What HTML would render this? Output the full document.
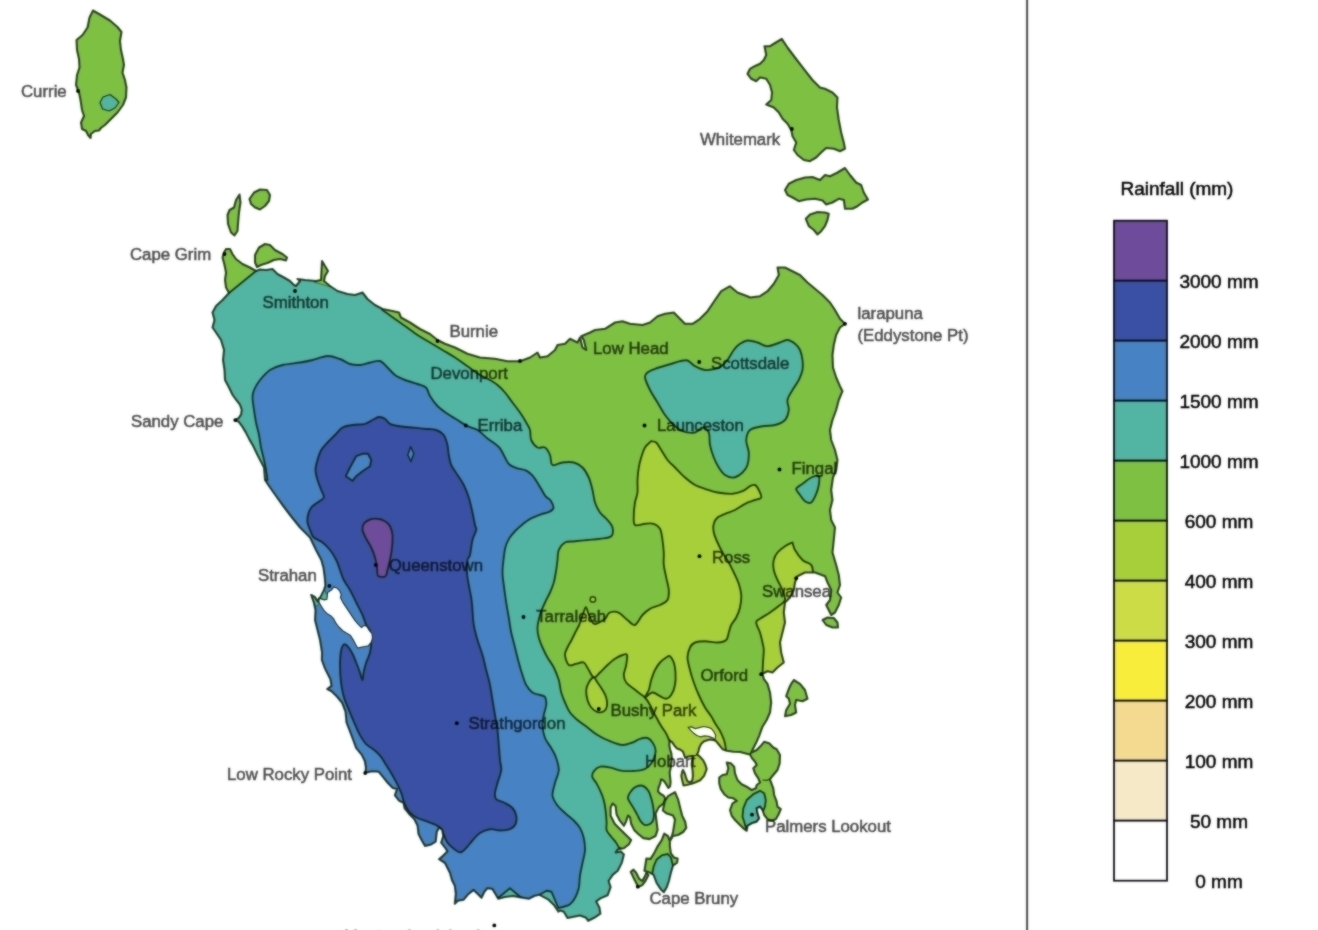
<!DOCTYPE html>
<html lang="en"><head><meta charset="utf-8"><title>Tasmania rainfall</title>
<style>
html,body{margin:0;padding:0;background:#fff;}
body{width:1318px;height:930px;overflow:hidden;font-family:"Liberation Sans",sans-serif;}
svg{display:block}
.lb{font-family:"Liberation Sans",sans-serif;font-size:16.8px;fill:#000;stroke:#000;stroke-width:.55px;opacity:.7}
.lg{font-family:"Liberation Sans",sans-serif;font-size:19px;fill:#000;stroke:#000;stroke-width:.5px}
</style></head><body>
<svg width="1318" height="930" viewBox="0 0 1318 930">
<defs><clipPath id="land"><path d="M222.5 257.5 L224 252.5 L226 249 L230 249 L232.5 254 L236 259 L242.5 264 L250 267.5 L256 271 L260 269.5 L266 270 L272.5 269 L277.5 274 L284 277.5 L290 281 L294 285 L296 286 L300 281 L297.5 279 L305 280 L316 281 L321 280 L322 261 L325 266 L328 271 L325 276 L324 281 L330 286 L337.5 291 L347.5 294 L355 295 L362.5 292.5 L367.5 299 L375 305 L382.5 309 L392.5 311 L399 312.5 L401 317.5 L410 322.5 L420 329 L430 334 L437.5 340 L445 343.8 L455 347.5 L467.5 353.8 L480 357.5 L495 358.8 L507.5 361.2 L520 361.2 L530 357.5 L537.5 352.5 L540 357.5 L547.5 356.2 L555 350 L557.5 345 L565 343.8 L570 338.8 L577.5 342.5 L580 337.5 L582.5 347.5 L586.2 350 L583.8 340 L581.2 336.2 L590 332.5 L595 330 L605 328.8 L615 322.5 L622.5 321.2 L630 323.8 L642.5 325 L650 322.5 L657.5 316.2 L665 313.8 L673.8 312.5 L680 318.8 L685 323.8 L692.5 323.8 L700 318.8 L707.5 311.2 L715 300 L721.2 291.2 L730 286.2 L737.5 292.5 L747.5 296.2 L750 297.5 L760 296.2 L767.5 291.2 L773.8 283.8 L778.8 275 L777.5 267.5 L785 267.5 L792.5 271.2 L800 275 L807.5 282.5 L815 288.8 L822.5 295 L830 302.5 L835 310 L840 318.8 L845 323.8 L840 327.5 L836.2 335 L833.8 345 L832.5 355 L833 367.5 L836.2 377.5 L840 386.2 L842.5 391.2 L838.8 400 L836.2 410 L832.5 420 L830 430 L831.2 440 L835 450 L837.5 460 L836.2 470 L833 477.5 L831.2 490 L832.5 500 L830 510 L831.2 520 L835 527.5 L833.8 540 L832.5 552.5 L836.2 565 L838.8 575 L840 585 L837.5 592.5 L841.2 597.5 L838.8 605 L835 612.5 L831.2 615 L826.2 605 L830 600 L831.2 590 L827.5 582.5 L825 576.2 L815 572.5 L805 572.5 L797.5 576.2 L795 582.5 L793.8 590 L790 597.5 L785 602.5 L783.8 612.5 L785 622.5 L782.5 632.5 L780 642.5 L781.2 652.5 L783.8 662.5 L777.5 667.5 L772.5 672.5 L767.5 671.2 L762.5 673.8 L763.8 678.8 L767.5 683.8 L770 692.5 L771.2 702.5 L770 712.5 L766.7 720 L762.5 726.7 L759.2 735.8 L756.7 741.7 L753.3 748.3 L751.3 752.5 L756.7 750 L760.8 745.8 L764.2 741.7 L769.2 743.3 L773.3 747.5 L776.7 749.2 L780 755 L779.7 763.3 L777.5 770 L773.3 775 L770 779.2 L770.8 781.7 L773.3 788.3 L774.2 795 L776.7 801.7 L777.5 806.7 L780.8 809.2 L778.3 815 L775.8 819.2 L771.7 820.8 L767.5 819.2 L764.2 815 L762.5 810 L760 806.7 L756.7 808.3 L757.5 813.3 L759.2 818.3 L756.7 821.7 L751.7 823.3 L747.5 825.8 L746.7 830.8 L743.3 828.3 L739.2 824.2 L735 820 L731.7 815.8 L730 810 L732.5 803.3 L736.7 800.8 L733.3 798.3 L728.3 797.5 L724.2 794.2 L720.8 789.2 L719.2 783.3 L719.2 777.5 L722.5 775 L726.7 774.2 L728.3 768.3 L726.7 762.5 L730.8 763.3 L734.2 766.7 L735 773.3 L737.5 780 L741.7 784.2 L746.7 786.7 L751.7 790 L755.8 788.3 L756.7 785 L760 782.5 L758.3 778.3 L755 773.3 L753.3 768.3 L756.7 765 L755 761.7 L752 758.3 L750 754.5 L746.7 753.7 L740 752 L733.3 751.7 L726.7 750.8 L722.5 749.2 L719.2 745 L715.8 740.8 L714 740.2 L710.6 739.4 L707.1 740.2 L703.7 741.5 L701.1 744.1 L699.4 747.5 L698.5 751 L697.2 754.4 L700.2 757 L703.3 760.4 L705.4 764.8 L706.7 769.1 L704.1 775.9 L700.2 780.2 L695.1 782.5 L691.6 783.8 L686.5 785 L683.5 785.5 L682.2 780.2 L681.3 775.9 L682.2 771.6 L683 769.9 L684.8 773.4 L686 777.7 L687.3 781.1 L689.5 782 L691.6 781.5 L692.5 779.4 L692.9 775.1 L692.5 769.9 L691.6 764.8 L692.1 760.4 L692.9 757.5 L691.6 756 L688.2 756.5 L685.2 757.9 L684.3 755.3 L683 751.8 L680.4 749.7 L677 748.4 L674.4 745.8 L672.3 742.4 L669.7 740.7 L669.3 745 L670.1 749.3 L671.4 753.6 L671.8 757.9 L671.4 763 L670.6 768.2 L669.7 772.5 L670.1 776.8 L670.6 782 L670.1 786.3 L668.4 788 L665.8 783.7 L663.2 780.2 L661.1 779.4 L660.2 783.7 L658.5 788 L658.1 791.4 L660.7 794 L663.7 795.7 L665.3 798.5 L663.8 803.3 L658.7 807.4 L655.6 813.6 L656.6 821.7 L657.6 829.9 L655.6 836 L649.5 839.1 L643.3 838.1 L638.2 834 L634.1 829.9 L631.1 823.8 L630.1 817.6 L628 815.6 L626 821.7 L623.9 825.8 L619.8 820.7 L616.6 814.6 L615.5 806 L612.7 803.5 L610.6 807.4 L610.6 815.6 L614.7 823.8 L620.9 829.9 L627 836 L631.1 840.1 L629 844.2 L623.9 848.3 L617.8 849.3 L615.8 852.4 L620.9 851.4 L623.9 854.4 L621.9 862.6 L617.8 870.8 L612.7 874.9 L608.6 881 L610.6 887.1 L607.6 895.3 L600.4 898.4 L596.3 901.4 L599.4 907.5 L600.4 913.7 L594.3 917.8 L588.2 920.8 L586.1 917.8 L580 915.5 L567.5 918 L563.8 911.8 L560 910.5 L558.4 911.6 L554.4 905.6 L548.5 899.7 L539.6 894.8 L534.7 895.8 L528.8 898.7 L520.9 897.4 L513 896 L505 897 L498.2 898.7 L495.3 893.8 L492.3 888.9 L487.4 888.3 L484.4 891.8 L481.5 897.8 L477.5 893.8 L473.6 889.9 L467.7 894.8 L463.7 899.7 L457.8 900.7 L454.8 903.7 L455.8 893.8 L454.8 885.9 L451.9 880 L450 873 L445 863 L439 859.2 L443.2 855.6 L447.5 851.3 L445.4 848.1 L441.1 842.7 L443.2 836.2 L442.2 829.8 L439 827.6 L436.8 831.9 L435.7 841.6 L430.4 844.8 L425 845.9 L421.8 840.5 L418.5 834.1 L417.5 825.5 L414.2 819 L408.9 813.7 L404.6 808.3 L403.5 802.9 L399.2 800.8 L394.9 795.4 L397 789 L392.7 787.9 L387.4 782.5 L383.1 777.1 L378.8 771.8 L372.3 771.3 L365.4 772.8 L365.9 767.5 L364.8 761 L361.6 754.6 L356.2 748.1 L353 739.5 L349.8 730.9 L346.5 722.3 L345.5 711.6 L342.2 703 L336.9 696.5 L331.5 691.2 L327.2 689 L331.5 685.8 L330.4 679.3 L325 668.6 L321.8 660 L322 652.5 L320 640 L317.5 630 L315 620 L315.5 610 L313.8 602.5 L311.2 595 L314.8 596.9 L317.8 601.5 L318.8 598.5 L320.1 597.6 L323.9 590.1 L325.4 585.6 L324.7 577 L323.5 568 L321.3 560 L316 550 L310 537.5 L300 527.5 L290 515 L282.5 505 L276 496 L270 487.5 L265 480 L264 467.5 L257.5 455 L253.2 446 L249.6 439.9 L245.9 432.6 L242.3 426.6 L238.6 421.7 L235 420.1 L238.6 418.1 L241.1 414.4 L241.7 409.6 L239.9 404.7 L236.2 399.9 L232.6 395 L229 387.5 L225 380 L224.5 370 L223 360 L224 350 L221 340 L216 332.5 L212.5 327.5 L214.5 320 L212.5 312.5 L216 306 L222.5 300 L229 293 L226 287.5 L225 280 L226 272.5 L224.5 265Z"/></clipPath>
<filter id="jpg" filterUnits="userSpaceOnUse" x="-40" y="-40" width="1398" height="1010" color-interpolation-filters="sRGB">
<feColorMatrix in="SourceGraphic" type="matrix" values="0.299 0.587 0.114 0 0  -0.168736 -0.331264 0.5 0 0.50196  0.5 -0.418688 -0.081312 0 0.50196  0 0 0 1 0" result="ycc"/>
<feColorMatrix in="ycc" type="matrix" values="1 0 0 0 0  0 0 0 0 0  0 0 0 0 0  0 0 0 1 0" result="y"/>
<feColorMatrix in="ycc" type="matrix" values="0 0 0 0 0  0 1 0 0 0  0 0 1 0 0  0 0 0 1 0" result="cc"/>
<feGaussianBlur in="cc" stdDeviation="2" result="ccb"/>
<feGaussianBlur in="y" stdDeviation="0.85" result="yb"/>
<feComposite in="y" in2="yb" operator="arithmetic" k1="0" k2="0.45" k3="0.55" k4="0" result="ym"/>
<feComposite in="ym" in2="ccb" operator="arithmetic" k1="0" k2="1" k3="1" k4="0" result="sum"/>
<feColorMatrix in="sum" type="matrix" values="1 0 1.402 0 -0.70375  1 -0.344136 -0.714136 0 0.53121  1 1.772 0 0 -0.88947  0 0 0 1 0"/>
</filter></defs>
<g filter="url(#jpg)">
<rect x="-40" y="-40" width="1398" height="1010" fill="#fff"/>
<path d="M222.5 257.5 L224 252.5 L226 249 L230 249 L232.5 254 L236 259 L242.5 264 L250 267.5 L256 271 L260 269.5 L266 270 L272.5 269 L277.5 274 L284 277.5 L290 281 L294 285 L296 286 L300 281 L297.5 279 L305 280 L316 281 L321 280 L322 261 L325 266 L328 271 L325 276 L324 281 L330 286 L337.5 291 L347.5 294 L355 295 L362.5 292.5 L367.5 299 L375 305 L382.5 309 L392.5 311 L399 312.5 L401 317.5 L410 322.5 L420 329 L430 334 L437.5 340 L445 343.8 L455 347.5 L467.5 353.8 L480 357.5 L495 358.8 L507.5 361.2 L520 361.2 L530 357.5 L537.5 352.5 L540 357.5 L547.5 356.2 L555 350 L557.5 345 L565 343.8 L570 338.8 L577.5 342.5 L580 337.5 L582.5 347.5 L586.2 350 L583.8 340 L581.2 336.2 L590 332.5 L595 330 L605 328.8 L615 322.5 L622.5 321.2 L630 323.8 L642.5 325 L650 322.5 L657.5 316.2 L665 313.8 L673.8 312.5 L680 318.8 L685 323.8 L692.5 323.8 L700 318.8 L707.5 311.2 L715 300 L721.2 291.2 L730 286.2 L737.5 292.5 L747.5 296.2 L750 297.5 L760 296.2 L767.5 291.2 L773.8 283.8 L778.8 275 L777.5 267.5 L785 267.5 L792.5 271.2 L800 275 L807.5 282.5 L815 288.8 L822.5 295 L830 302.5 L835 310 L840 318.8 L845 323.8 L840 327.5 L836.2 335 L833.8 345 L832.5 355 L833 367.5 L836.2 377.5 L840 386.2 L842.5 391.2 L838.8 400 L836.2 410 L832.5 420 L830 430 L831.2 440 L835 450 L837.5 460 L836.2 470 L833 477.5 L831.2 490 L832.5 500 L830 510 L831.2 520 L835 527.5 L833.8 540 L832.5 552.5 L836.2 565 L838.8 575 L840 585 L837.5 592.5 L841.2 597.5 L838.8 605 L835 612.5 L831.2 615 L826.2 605 L830 600 L831.2 590 L827.5 582.5 L825 576.2 L815 572.5 L805 572.5 L797.5 576.2 L795 582.5 L793.8 590 L790 597.5 L785 602.5 L783.8 612.5 L785 622.5 L782.5 632.5 L780 642.5 L781.2 652.5 L783.8 662.5 L777.5 667.5 L772.5 672.5 L767.5 671.2 L762.5 673.8 L763.8 678.8 L767.5 683.8 L770 692.5 L771.2 702.5 L770 712.5 L766.7 720 L762.5 726.7 L759.2 735.8 L756.7 741.7 L753.3 748.3 L751.3 752.5 L756.7 750 L760.8 745.8 L764.2 741.7 L769.2 743.3 L773.3 747.5 L776.7 749.2 L780 755 L779.7 763.3 L777.5 770 L773.3 775 L770 779.2 L770.8 781.7 L773.3 788.3 L774.2 795 L776.7 801.7 L777.5 806.7 L780.8 809.2 L778.3 815 L775.8 819.2 L771.7 820.8 L767.5 819.2 L764.2 815 L762.5 810 L760 806.7 L756.7 808.3 L757.5 813.3 L759.2 818.3 L756.7 821.7 L751.7 823.3 L747.5 825.8 L746.7 830.8 L743.3 828.3 L739.2 824.2 L735 820 L731.7 815.8 L730 810 L732.5 803.3 L736.7 800.8 L733.3 798.3 L728.3 797.5 L724.2 794.2 L720.8 789.2 L719.2 783.3 L719.2 777.5 L722.5 775 L726.7 774.2 L728.3 768.3 L726.7 762.5 L730.8 763.3 L734.2 766.7 L735 773.3 L737.5 780 L741.7 784.2 L746.7 786.7 L751.7 790 L755.8 788.3 L756.7 785 L760 782.5 L758.3 778.3 L755 773.3 L753.3 768.3 L756.7 765 L755 761.7 L752 758.3 L750 754.5 L746.7 753.7 L740 752 L733.3 751.7 L726.7 750.8 L722.5 749.2 L719.2 745 L715.8 740.8 L714 740.2 L710.6 739.4 L707.1 740.2 L703.7 741.5 L701.1 744.1 L699.4 747.5 L698.5 751 L697.2 754.4 L700.2 757 L703.3 760.4 L705.4 764.8 L706.7 769.1 L704.1 775.9 L700.2 780.2 L695.1 782.5 L691.6 783.8 L686.5 785 L683.5 785.5 L682.2 780.2 L681.3 775.9 L682.2 771.6 L683 769.9 L684.8 773.4 L686 777.7 L687.3 781.1 L689.5 782 L691.6 781.5 L692.5 779.4 L692.9 775.1 L692.5 769.9 L691.6 764.8 L692.1 760.4 L692.9 757.5 L691.6 756 L688.2 756.5 L685.2 757.9 L684.3 755.3 L683 751.8 L680.4 749.7 L677 748.4 L674.4 745.8 L672.3 742.4 L669.7 740.7 L669.3 745 L670.1 749.3 L671.4 753.6 L671.8 757.9 L671.4 763 L670.6 768.2 L669.7 772.5 L670.1 776.8 L670.6 782 L670.1 786.3 L668.4 788 L665.8 783.7 L663.2 780.2 L661.1 779.4 L660.2 783.7 L658.5 788 L658.1 791.4 L660.7 794 L663.7 795.7 L665.3 798.5 L663.8 803.3 L658.7 807.4 L655.6 813.6 L656.6 821.7 L657.6 829.9 L655.6 836 L649.5 839.1 L643.3 838.1 L638.2 834 L634.1 829.9 L631.1 823.8 L630.1 817.6 L628 815.6 L626 821.7 L623.9 825.8 L619.8 820.7 L616.6 814.6 L615.5 806 L612.7 803.5 L610.6 807.4 L610.6 815.6 L614.7 823.8 L620.9 829.9 L627 836 L631.1 840.1 L629 844.2 L623.9 848.3 L617.8 849.3 L615.8 852.4 L620.9 851.4 L623.9 854.4 L621.9 862.6 L617.8 870.8 L612.7 874.9 L608.6 881 L610.6 887.1 L607.6 895.3 L600.4 898.4 L596.3 901.4 L599.4 907.5 L600.4 913.7 L594.3 917.8 L588.2 920.8 L586.1 917.8 L580 915.5 L567.5 918 L563.8 911.8 L560 910.5 L558.4 911.6 L554.4 905.6 L548.5 899.7 L539.6 894.8 L534.7 895.8 L528.8 898.7 L520.9 897.4 L513 896 L505 897 L498.2 898.7 L495.3 893.8 L492.3 888.9 L487.4 888.3 L484.4 891.8 L481.5 897.8 L477.5 893.8 L473.6 889.9 L467.7 894.8 L463.7 899.7 L457.8 900.7 L454.8 903.7 L455.8 893.8 L454.8 885.9 L451.9 880 L450 873 L445 863 L439 859.2 L443.2 855.6 L447.5 851.3 L445.4 848.1 L441.1 842.7 L443.2 836.2 L442.2 829.8 L439 827.6 L436.8 831.9 L435.7 841.6 L430.4 844.8 L425 845.9 L421.8 840.5 L418.5 834.1 L417.5 825.5 L414.2 819 L408.9 813.7 L404.6 808.3 L403.5 802.9 L399.2 800.8 L394.9 795.4 L397 789 L392.7 787.9 L387.4 782.5 L383.1 777.1 L378.8 771.8 L372.3 771.3 L365.4 772.8 L365.9 767.5 L364.8 761 L361.6 754.6 L356.2 748.1 L353 739.5 L349.8 730.9 L346.5 722.3 L345.5 711.6 L342.2 703 L336.9 696.5 L331.5 691.2 L327.2 689 L331.5 685.8 L330.4 679.3 L325 668.6 L321.8 660 L322 652.5 L320 640 L317.5 630 L315 620 L315.5 610 L313.8 602.5 L311.2 595 L314.8 596.9 L317.8 601.5 L318.8 598.5 L320.1 597.6 L323.9 590.1 L325.4 585.6 L324.7 577 L323.5 568 L321.3 560 L316 550 L310 537.5 L300 527.5 L290 515 L282.5 505 L276 496 L270 487.5 L265 480 L264 467.5 L257.5 455 L253.2 446 L249.6 439.9 L245.9 432.6 L242.3 426.6 L238.6 421.7 L235 420.1 L238.6 418.1 L241.1 414.4 L241.7 409.6 L239.9 404.7 L236.2 399.9 L232.6 395 L229 387.5 L225 380 L224.5 370 L223 360 L224 350 L221 340 L216 332.5 L212.5 327.5 L214.5 320 L212.5 312.5 L216 306 L222.5 300 L229 293 L226 287.5 L225 280 L226 272.5 L224.5 265Z" fill="#7ec142"/>
<g clip-path="url(#land)">
<path d="M229 293 L256 271 L256 240 L385 240 L382.5 310 C384.6 311.5 391.2 316.3 395 319 C398.8 321.7 401.2 323.3 405 326 C408.8 328.7 413.3 332.2 417.5 335 C421.7 337.8 425.8 340 430 342.5 C434.2 345 438.3 347.5 442.5 350 C446.7 352.5 450.8 354.8 455 357.5 C459.2 360.2 463.3 363.3 467.5 366.2 C471.7 369.2 476.2 372.7 480 375 C483.8 377.3 487.1 378.3 490 380 C492.9 381.7 495 382.9 497.5 385 C500 387.1 502.5 389.6 505 392.5 C507.5 395.4 510 399.2 512.5 402.5 C515 405.8 517.7 409.2 520 412.5 C522.3 415.8 524.6 419.6 526.2 422.5 C527.9 425.4 529.2 427.1 530 430 C530.8 432.9 530 437.1 531.2 440 C532.5 442.9 535.2 446.2 537.5 447.5 C539.8 448.8 542.9 446.2 545 447.5 C547.1 448.8 548.8 452.1 550 455 C551.2 457.9 550.4 463.8 552.5 465 C554.6 466.2 559 462.9 562.5 462.5 C566 462.1 570.4 461.7 573.8 462.5 C577.1 463.3 580 465 582.5 467.5 C585 470 587.1 473.8 588.8 477.5 C590.4 481.2 591.5 485.8 592.5 490 C593.5 494.2 593.8 498.8 595 502.5 C596.2 506.2 597.9 509.6 600 512.5 C602.1 515.4 605.4 517.5 607.5 520 C609.6 522.5 611.9 524.8 612.5 527.5 C613.1 530.2 613.3 534.4 611.2 536.2 C609.2 538.1 604 538.1 600 538.8 C596 539.4 591.7 539.6 587.5 540 C583.3 540.4 578.8 540.8 575 541.2 C571.2 541.7 567.7 541 565 542.5 C562.3 544 560 547.1 558.8 550 C557.5 552.9 557.9 556.7 557.5 560 C557.1 563.3 556.9 566.2 556.2 570 C555.6 573.8 554.8 578.8 553.8 582.5 C552.7 586.2 551.5 589.2 550 592.5 C548.5 595.8 546.7 598.8 545 602.5 C543.3 606.2 541.2 610.8 540 615 C538.8 619.2 537.7 623.8 537.5 627.5 C537.3 631.2 537.9 634.2 538.8 637.5 C539.6 640.8 541 644.2 542.5 647.5 C544 650.8 545.6 654.2 547.5 657.5 C549.4 660.8 551.9 663.8 553.8 667.5 C555.6 671.2 557.5 675.8 558.8 680 C560 684.2 560.2 688.8 561.2 692.5 C562.3 696.2 563.5 699.2 565 702.5 C566.5 705.8 567.9 709.6 570 712.5 C572.1 715.4 574.6 717.5 577.5 720 C580.4 722.5 584.2 725 587.5 727.5 C590.8 730 593.8 732.7 597.5 735 C601.2 737.3 605.8 739.6 610 741.2 C614.2 742.9 618.8 744.8 622.5 745 C626.2 745.2 629.6 743.5 632.5 742.5 C635.4 741.5 637.5 739.5 640 738.8 C642.5 738 645.4 737.4 647.5 738 C649.6 738.6 651.1 740.5 652.5 742.5 C653.9 744.5 655.4 747.4 655.6 750.2 C655.8 753 654.8 756.7 653.6 759.4 C652.4 762.1 650.5 764.8 648.5 766.6 C646.5 768.4 644.2 769.5 641.3 770.2 C638.4 771 634.5 771 631.1 771.1 C627.7 771.2 624.3 771.2 620.9 770.6 C617.5 770 614 768.3 610.6 767.6 C607.2 766.9 603.1 766.1 600.4 766.6 C597.7 767.1 595.6 768.9 594.3 770.6 C592.9 772.3 592 774.8 592.3 776.8 C592.6 778.8 594.9 780.5 596.3 782.9 C597.6 785.3 599.2 788.4 600.4 791.1 C601.6 793.8 602.6 796.2 603.5 799.3 C604.4 802.4 605 805.8 605.5 809.5 C606 813.2 606.4 818.3 606.6 821.7 C606.8 825.1 605.9 827.5 606.6 829.9 C607.3 832.3 609.1 834 610.6 836 C612.1 838 614.4 840.3 615.8 842.2 C617.2 844.1 618.3 846.4 618.8 847.3 L625 851 L640 860 L640 945 L150 945 L150 293Z" fill="#52b4a3" stroke="#0a1a05" stroke-opacity="0.8" stroke-width="1.9" stroke-linejoin="round"/>
<path d="M267.5 480 C267.2 478.3 266.6 473.3 266 470 C265.4 466.7 264.8 463.8 264 460 C263.2 456.2 261.8 451.7 261 447.5 C260.2 443.3 259.8 439.2 259 435 C258.2 430.8 256.8 426.7 256 422.5 C255.2 418.3 254.6 414.2 254 410 C253.4 405.8 252.5 400.8 252.5 397.5 C252.5 394.2 252.8 392.9 254 390 C255.2 387.1 257.3 383.3 260 380 C262.7 376.7 266.2 372.5 270 370 C273.8 367.5 277.5 366.2 282.5 365 C287.5 363.8 295 363.3 300 362.5 C305 361.7 307.9 361.1 312.5 360 C317.1 358.9 322.9 356.2 327.5 356 C332.1 355.8 336.2 357.7 340 359 C343.8 360.3 346.7 363 350 364 C353.3 365 356.7 365.2 360 365 C363.3 364.8 366.7 363.2 370 362.5 C373.3 361.8 377.1 360.2 380 361 C382.9 361.8 385 365.2 387.5 367.5 C390 369.8 392.1 372.9 395 375 C397.9 377.1 401.2 378.5 405 380 C408.8 381.5 414 382.8 417.5 384 C421 385.2 423.9 385.5 426 387.5 C428.1 389.5 428.1 392.9 430 396 C431.9 399.1 434.6 403 437.5 406 C440.4 409 444.2 411.4 447.5 413.8 C450.8 416.1 454.2 417.9 457.5 420 C460.8 422.1 464.2 424.6 467.5 426.2 C470.8 427.9 474.2 428 477.5 430 C480.8 432 484.8 436.3 487.5 438.5 C490.2 440.7 491.9 441.4 494 443 C496.1 444.6 498.2 446 500 448.3 C501.8 450.6 503.1 454 504.6 456.7 C506.1 459.4 507.1 462.4 509.1 464.3 C511.1 466.2 513.9 467.1 516.7 468.1 C519.5 469.1 523.3 469.2 525.8 470.3 C528.3 471.4 530.1 473.1 531.9 474.9 C533.7 476.7 534.9 478.7 536.4 481 C537.9 483.3 539.5 486.1 541 488.6 C542.5 491.1 543.9 494.1 545.5 496.1 C547.1 498.1 549.5 498.7 550.8 500.7 C552.1 502.7 553.8 506.4 553.4 508.3 C553 510.2 550.7 511.1 548.6 512.1 C546.5 513.1 544 513.3 541 514.4 C538 515.5 533.3 517.3 530.3 518.9 C527.3 520.5 525.3 522.2 522.8 524.2 C520.3 526.2 517.5 528.6 515.2 531 C512.9 533.4 510.8 535.8 509.1 538.6 C507.5 541.4 506.2 544.1 505.3 547.7 C504.4 551.3 504 555.9 503.5 560 C503 564.1 502.5 568.3 502.5 572.5 C502.5 576.7 503.1 580 503.8 585 C504.4 590 505.4 597.1 506.2 602.5 C507.1 607.9 507.9 612.5 508.8 617.5 C509.6 622.5 510.2 627.5 511.2 632.5 C512.3 637.5 513.8 642.5 515 647.5 C516.2 652.5 517.5 657.9 518.8 662.5 C520 667.1 521.2 671.2 522.5 675 C523.8 678.8 524.6 682.1 526.2 685 C527.9 687.9 530.2 690.8 532.5 692.5 C534.8 694.2 537.9 694.2 540 695 C542.1 695.8 544 695.3 545 697 C546 698.7 546.5 702 546.2 705 C546 708 544.4 711.6 543.8 715 C543.1 718.4 542.3 721.7 542.5 725.5 C542.7 729.3 543.5 734.2 545 738 C546.5 741.8 549.4 744.7 551.2 748 C553.1 751.3 555 754.2 556.2 758 C557.5 761.8 559 766.3 558.8 770.5 C558.5 774.7 556 778.8 555 783 C554 787.2 552.1 791.8 552.5 795.5 C552.9 799.2 555.4 802.6 557.5 805.5 C559.6 808.4 562.3 810.5 565 813 C567.7 815.5 571.2 818 573.8 820.5 C576.2 823 578.3 825.1 580 828 C581.7 830.9 582.9 834.2 583.8 838 C584.6 841.8 585.2 846.3 585 850.5 C584.8 854.7 583.3 858.8 582.5 863 C581.7 867.2 580.6 871.3 580 875.5 C579.4 879.7 579.6 884.2 578.8 888 C577.9 891.8 576.5 895.3 575 898 C573.5 900.7 571.9 902.8 570 904.2 C568.1 905.7 564.8 906.3 563.8 906.8 L558.4 908 L551.5 891.8 L546.5 890.8 L539.6 894.8 L535 905 L521 905 L520.9 897.4 L510 888.3 L497.2 898.7 L497 912 L300 945 L150 945 L150 480Z" fill="#4682c4" stroke="#0a1a05" stroke-opacity="0.8" stroke-width="1.9" stroke-linejoin="round"/>
<path d="M378.8 417 C380.8 416.8 383.1 417.6 385 418.8 C386.9 419.9 387.5 422.5 390 423.8 C392.5 425 396.2 425.6 400 426.2 C403.8 426.9 408.3 427.1 412.5 427.5 C416.7 427.9 421 428.3 425 428.8 C429 429.2 433.1 429 436.2 430 C439.4 431 441.9 432.5 443.8 435 C445.6 437.5 446.7 441.7 447.5 445 C448.3 448.3 448.1 451.7 448.8 455 C449.4 458.3 449.8 461.7 451.2 465 C452.7 468.3 455.4 471.7 457.5 475 C459.6 478.3 461.9 481.2 463.8 485 C465.6 488.8 467.3 492.9 468.8 497.5 C470.2 502.1 471.5 507.9 472.5 512.5 C473.5 517.1 474.4 522.1 475 525 C475.6 527.9 476.7 527.5 476.2 530 C475.8 532.5 473.5 535.8 472.5 540 C471.5 544.2 470.8 551.7 470 555 C469.2 558.3 468 557.1 467.5 560 C467 562.9 466.8 568.3 467 572.5 C467.2 576.7 468 580.8 468.8 585 C469.5 589.2 470.6 593.3 471.2 597.5 C471.9 601.7 472.1 605.4 472.5 610 C472.9 614.6 472.9 620 473.8 625 C474.6 630 476 635 477.5 640 C479 645 481 650 482.5 655 C484 660 485 665 486.2 670 C487.5 675 489 680 490 685 C491 690 491.7 695 492.5 700 C493.3 705 494.2 710 495 715 C495.8 720 496.9 725 497.5 730 C498.1 735 498.3 740 498.8 745 C499.2 750 499.6 755.8 500 760 C500.4 764.2 501.7 766.7 501.2 770.5 C500.8 774.3 498.5 779.2 497.5 783 C496.5 786.8 495.2 790.3 495 793 C494.8 795.7 494.6 797.6 496.2 799.2 C497.9 800.9 502.3 801.5 505 803 C507.7 804.5 510.6 805.9 512.5 808 C514.4 810.1 515.8 812.8 516.2 815.5 C516.8 818.2 516.5 822 515.5 824.2 C514.5 826.5 512.6 828.2 510 829.2 C507.4 830.3 503.3 830.5 500 830.5 C496.7 830.5 493.3 828.8 490 829.2 C486.7 829.7 482.9 831.1 480 833 C477.1 834.9 474.8 838 472.5 840.5 C470.2 843 468.3 846 466.2 848 C464.2 850 462.2 852.4 460 852.4 C457.8 852.4 455 849.7 452.9 848.1 C450.8 846.5 448.9 844.7 447.5 842.7 C446.1 840.7 445.4 838.5 444.3 836.2 C443.2 833.9 442.7 830.7 441.1 828.7 C439.5 826.7 437.2 825.6 434.7 824.4 C432.2 823.1 429 822.3 426.1 821.2 C423.2 820.1 420.2 819.4 417.5 818 C414.8 816.6 412 814.9 409.9 812.6 C407.8 810.3 406 807.2 404.6 804 C403.2 800.8 402.6 796.6 401.3 793.2 C400 789.8 398.6 786.8 397 783.6 C395.4 780.4 393.5 777 391.7 773.9 C389.9 770.8 388.1 768.2 386.3 765.3 C384.5 762.4 382.9 759.2 380.9 756.7 C378.9 754.2 377 752.4 374.5 750.3 C372 748.1 368.4 746.5 365.9 743.8 C363.4 741.1 361.4 737.7 359.4 734.1 C357.4 730.5 355.9 726.4 354.1 722.3 C352.3 718.2 350.3 713.3 348.7 709.4 C347.1 705.5 345.5 702.3 344.4 698.7 C343.2 695.1 342.4 691.5 341.8 687.9 C341.2 684.3 340.8 680.4 340.5 677.2 C340.2 674 340.2 671.5 340.1 668.6 C340 665.7 339.9 663.1 340.1 660 C340.3 656.9 340.6 652.6 341.2 650 C341.9 647.4 342.7 645.1 343.8 644.5 C344.8 643.9 346 644.7 347.5 646.2 C349 647.8 351 651 352.5 653.8 C354 656.5 355 659.4 356.2 662.5 C357.5 665.6 359 669.6 360 672.5 C361 675.4 361.9 680.2 362.5 680 C363.1 679.8 363.1 674.2 363.8 671.2 C364.4 668.3 365.2 665.6 366.2 662.5 C367.3 659.4 369.2 655.8 370 652.5 C370.8 649.2 371.2 646 371.2 642.5 C371.2 639 370.8 634.2 370 631.2 C369.2 628.3 367.5 627.7 366.2 625 C365 622.3 364.2 618.8 362.5 615 C360.8 611.2 358.3 606.7 356.2 602.5 C354.2 598.3 352.1 593.8 350 590 C347.9 586.2 345.4 583.3 343.8 580 C342.1 576.7 341.2 573.3 340 570 C338.8 566.7 337.9 563.3 336.2 560 C334.6 556.7 332.3 552.9 330 550 C327.7 547.1 325.2 544.6 322.5 542.5 C319.8 540.4 315.8 539.6 313.8 537.5 C311.7 535.4 311 532.5 310 530 C309 527.5 307.8 525 307.5 522.5 C307.2 520 307.4 517.5 308 515 C308.6 512.5 309.7 509.6 311.2 507.5 C312.8 505.4 315.4 504.2 317.5 502.5 C319.6 500.8 323.1 499.6 323.8 497.5 C324.4 495.4 322.3 492.9 321.2 490 C320.2 487.1 318.5 483.3 317.5 480 C316.5 476.7 315.5 473.3 315.5 470 C315.5 466.7 316.5 463.3 317.5 460 C318.5 456.7 319.6 452.9 321.2 450 C322.9 447.1 325.2 445 327.5 442.5 C329.8 440 332.5 437.5 335 435 C337.5 432.5 339.6 429.2 342.5 427.5 C345.4 425.8 348.8 425.6 352.5 425 C356.2 424.4 361.7 424.6 365 423.8 C368.3 422.9 370.2 421.1 372.5 420 C374.8 418.9 376.7 417.2 378.8 417Z" fill="#3a50a4" stroke="#0a1a05" stroke-opacity="0.8" stroke-width="1.9" stroke-linejoin="round"/>
<path d="M362.5 530 C362.1 527.5 362.5 525.5 363.8 523.8 C365 522 367.7 520.3 370 519.5 C372.3 518.7 375 518.5 377.5 518.8 C380 519 382.9 520 385 521.2 C387.1 522.5 388.8 524 390 526.2 C391.2 528.5 392.2 531.5 392.5 535 C392.8 538.5 392.4 543.3 392 547.5 C391.6 551.7 390.8 556.2 390 560 C389.2 563.8 388.2 567.3 387.5 570 C386.8 572.7 387.1 575.3 385.5 576.2 C383.9 577.2 379.4 577.2 378 575.8 C376.6 574.3 377.5 570.5 377 567.5 C376.5 564.5 376 560.8 375 557.5 C374 554.2 372.7 550.6 371.2 547.5 C369.8 544.4 367.7 541.7 366.2 538.8 C364.8 535.8 362.9 532.5 362.5 530Z" fill="#6f4b9b" stroke="#0a1a05" stroke-opacity="0.8" stroke-width="1.9" stroke-linejoin="round"/>
<path d="M345.8 476.2 L350 467.5 L356.2 456.2 L362.5 453.8 L368 453.8 L371.2 460 L370 466.2 L362.5 471.2 L356.2 476.2 L352.5 480.8Z" fill="#4682c4" stroke="#0a1a05" stroke-opacity="0.8" stroke-width="1.9" stroke-linejoin="round"/>
<path d="M410.6 446.8 L413.8 453.5 L410.9 461.5 L407.8 455Z" fill="#4682c4" stroke="#0a1a05" stroke-opacity="0.8" stroke-width="1.5" stroke-linejoin="round"/>
<path d="M645 377.5 C644.6 374.6 645.8 374 647.5 372.5 C649.2 371 651.7 370 655 368.8 C658.3 367.5 663.3 366.2 667.5 365 C671.7 363.8 676.7 362 680 361.2 C683.3 360.5 685 359.7 687.5 360.5 C690 361.3 692.1 364.7 695 366.2 C697.9 367.8 701.7 369.6 705 370 C708.3 370.4 712.3 369.4 715 368.8 C717.7 368.1 719.2 367.7 721.2 366.2 C723.3 364.8 725.4 362.7 727.5 360 C729.6 357.3 731.7 352.7 733.8 350 C735.8 347.3 737.7 345.3 740 343.8 C742.3 342.2 744.6 340.7 747.5 340.5 C750.4 340.3 754.2 341.5 757.5 342.5 C760.8 343.5 763.8 346.2 767.5 346.2 C771.2 346.2 776.7 343.5 780 342.5 C783.3 341.5 785 339.8 787.5 340 C790 340.2 792.9 342.1 795 343.8 C797.1 345.4 798.8 347.3 800 350 C801.2 352.7 802.1 356.7 802.5 360 C802.9 363.3 803.1 366.7 802.5 370 C801.9 373.3 800.4 376.7 798.8 380 C797.1 383.3 794.4 386.7 792.5 390 C790.6 393.3 788.1 396.7 787.5 400 C786.9 403.3 789.2 406.7 788.8 410 C788.3 413.3 787.3 417.5 785 420 C782.7 422.5 778.8 424 775 425 C771.2 426 766.7 425.4 762.5 426.2 C758.3 427.1 752.7 427.7 750 430 C747.3 432.3 746.5 436.2 746.2 440 C746 443.8 748.5 448.3 748.8 452.5 C749 456.7 748.5 461.7 747.5 465 C746.5 468.3 744.8 470.4 742.5 472.5 C740.2 474.6 736.7 477.1 733.8 477.5 C730.8 477.9 727.5 476.7 725 475 C722.5 473.3 720.6 470.4 718.8 467.5 C716.9 464.6 715.2 461.2 713.8 457.5 C712.3 453.8 710.8 449.2 710 445 C709.2 440.8 710 435.4 708.8 432.5 C707.5 429.6 704.8 427.5 702.5 427.5 C700.2 427.5 698.3 431.9 695 432.5 C691.7 433.1 686 432.5 682.5 431.2 C679 430 676.7 427.7 673.8 425 C670.8 422.3 667.7 418.8 665 415 C662.3 411.2 660 406.7 657.5 402.5 C655 398.3 652.1 394.2 650 390 C647.9 385.8 645.4 380.4 645 377.5Z" fill="#52b4a3" stroke="#0a1a05" stroke-opacity="0.8" stroke-width="1.9" stroke-linejoin="round"/>
<path d="M796.2 488.8 C796.7 486.9 800 485.6 802.5 483.8 C805 481.9 808.5 478.8 811.2 477.5 C814 476.2 817.5 475 818.8 476.2 C820 477.5 819.2 482.1 818.8 485 C818.3 487.9 817.5 490.8 816.2 493.8 C815 496.7 813.1 501.2 811.2 502.5 C809.4 503.8 806.9 502.5 805 501.2 C803.1 500 801.5 497.1 800 495 C798.5 492.9 795.8 490.6 796.2 488.8Z" fill="#52b4a3" stroke="#0a1a05" stroke-opacity="0.8" stroke-width="1.9" stroke-linejoin="round"/>
<path d="M628 798.2 C627.7 795.5 629.7 793 631.1 791.1 C632.5 789.2 634.2 787.5 636.2 786.6 C638.2 785.8 641.2 785.2 643.3 786 C645.3 786.8 647.1 788.9 648.5 791.1 C649.9 793.3 650.6 796.2 651.5 799.3 C652.4 802.4 653.2 806.3 653.6 809.5 C654 812.7 654.1 816.3 653.6 818.7 C653.1 821.1 652 822.8 650.5 823.8 C649 824.8 646.1 825.3 644.4 824.8 C642.7 824.3 641.5 822.4 640.3 820.7 C639.1 819 638.4 816.8 637.2 814.6 C636 812.4 634.6 810.1 633.1 807.4 C631.6 804.7 628.3 800.9 628 798.2Z" fill="#52b4a3" stroke="#0a1a05" stroke-opacity="0.8" stroke-width="1.9" stroke-linejoin="round"/>
<path d="M742.5 816.7 L743.3 808.3 L746.7 800 L753.3 794.2 L760 790.8 L764.2 793.3 L765.8 800 L765 806.7 L762.5 812 L760 806.7 L756.7 808.3 L757.5 813.3 L759.2 818.3 L756.7 821.7 L751.7 823.3 L747.5 825.8 L746.7 830.8 L744.2 821.7Z" fill="#52b4a3" stroke="#0a1a05" stroke-opacity="0.8" stroke-width="1.9" stroke-linejoin="round"/>
<path d="M309 593.5 L314.8 596 L319 603.6 L316.3 606.5 L314.1 603.6 L312.4 598.4Z" fill="#52b4a3" stroke="#0a1a05" stroke-opacity="0.8" stroke-width="0.6" stroke-linejoin="round"/>
<path d="M323.9 588.5 L327.5 596.1 L327.5 600 L323.9 600.4 L318.5 598Z" fill="#52b4a3" stroke="#0a1a05" stroke-opacity="0.8" stroke-width="0.6" stroke-linejoin="round"/>
<path d="M314 282 L321 280 L320 258 L330 270 L326 276 L325 281 L331 287Z" fill="#7ec142" stroke="#0a1a05" stroke-opacity="0.8" stroke-width="0.6" stroke-linejoin="round"/>
<path d="M651.2 441.2 C652.1 441.5 654.6 441 656.2 442.5 C657.9 444 659.4 447.1 661.2 450 C663.1 452.9 665.2 457.1 667.5 460 C669.8 462.9 672.1 464.6 675 467.5 C677.9 470.4 681.7 474.6 685 477.5 C688.3 480.4 691.7 483.1 695 485 C698.3 486.9 701.2 487.5 705 488.8 C708.8 490 712.9 491.7 717.5 492.5 C722.1 493.3 728.3 494 732.5 493.8 C736.7 493.5 739.6 492.5 742.5 491.2 C745.4 490 747.9 487.3 750 486.2 C752.1 485.2 753.5 484.4 755 485 C756.5 485.6 757.7 487.9 758.8 490 C759.8 492.1 761.9 495.8 761.2 497.5 C760.6 499.2 757.7 499 755 500 C752.3 501 748.3 502.1 745 503.8 C741.7 505.4 738.3 508.3 735 510 C731.7 511.7 727.9 512.5 725 513.8 C722.1 515 719.4 515.8 717.5 517.5 C715.6 519.2 714.4 521.2 713.8 523.8 C713.1 526.2 713.1 529.4 713.8 532.5 C714.4 535.6 716 539.2 717.5 542.5 C719 545.8 720.6 549.2 722.5 552.5 C724.4 555.8 726.9 559.2 728.8 562.5 C730.6 565.8 732.1 569 733.8 572.5 C735.4 576 737.5 580 738.8 583.8 C740 587.5 741 591 741.2 595 C741.5 599 740.8 603.8 740 607.5 C739.2 611.2 737.7 614.6 736.2 617.5 C734.8 620.4 732.5 622.5 731.2 625 C730 627.5 729.6 630 728.8 632.5 C727.9 635 728.1 638.3 726.2 640 C724.4 641.7 721 642.3 717.5 642.5 C714 642.7 708.8 641.2 705 641.2 C701.2 641.2 697.5 641.5 695 642.5 C692.5 643.5 691.2 645 690 647.5 C688.8 650 687.5 653.8 687.5 657.5 C687.5 661.2 689 665.8 690 670 C691 674.2 692.3 678.3 693.8 682.5 C695.2 686.7 696.9 690.8 698.8 695 C700.6 699.2 703 704 705 707.5 C707 711 709.2 713.2 711 716 C712.8 718.8 714.3 722 715.7 724.3 C717.1 726.5 718.2 727.8 719.2 729.5 C720.2 731.2 721 732.9 721.8 734.6 C722.6 736.3 723.3 738.1 723.9 739.8 C724.5 741.5 724.9 743 725.2 745 C725.6 747 725.9 750.4 726 751.5 L716 760 L716 789 L678 789 L676 752 L669.7 741 C669.5 740.6 668.9 739.6 668.4 738.5 C667.9 737.4 667.4 736 666.7 734.6 C666 733.2 665 731.6 664.1 730.3 C663.2 728.9 662.5 728.1 661.5 726.5 C660.5 724.9 659.2 722.8 658 720.5 C656.8 718.2 655.3 715.6 654 713 C652.7 710.4 651.5 707.6 650 705 C648.5 702.4 646.7 699.4 645 697.5 C643.3 695.6 641.9 695.2 640 693.8 C638.1 692.3 636 690.6 633.8 688.8 C631.5 686.9 627.9 684.8 626.2 682.5 C624.6 680.2 623.8 677.9 623.8 675 C623.8 672.1 625.7 668.3 626.2 665 C626.8 661.7 627.6 656.7 627 655 C626.4 653.3 624.5 654.4 622.5 655 C620.5 655.6 617.5 657.1 615 658.8 C612.5 660.4 610 662.7 607.5 665 C605 667.3 602.3 670.4 600 672.5 C597.7 674.6 595.6 677.9 593.8 677.5 C591.9 677.1 590.4 672.5 588.8 670 C587.1 667.5 585.8 663.5 583.8 662.5 C581.7 661.5 578.8 663.3 576.2 663.8 C573.8 664.2 570.6 666.5 568.8 665 C566.9 663.5 565.2 657.9 565 655 C564.8 652.1 566.4 650 567.5 647.5 C568.6 645 570.3 642.6 571.6 640 C572.9 637.4 574.2 634.6 575.5 632 C576.8 629.4 578.1 627.5 579.4 624.5 C580.6 621.5 581.9 616.9 583 614 C584.1 611.1 584.9 607.2 585.8 607.1 C586.7 607 587.5 611.4 588.4 613.5 C589.3 615.6 590 618.3 591 620 C592 621.7 592.9 623.5 594.2 623.9 C595.5 624.3 596.9 623.5 598.7 622.6 C600.5 621.7 603.5 620.3 605.2 618.7 C606.9 617.1 607.4 614.2 609 613 C610.6 611.8 613 611.5 614.8 611.6 C616.6 611.7 617.8 612 620 613.5 C622.2 615 625.5 618.6 628 620.5 C630.5 622.4 632.6 625.9 635 625 C637.4 624.1 640 617.7 642.5 615 C645 612.3 647.1 610.4 650 608.8 C652.9 607.1 657.1 606.5 660 605 C662.9 603.5 666 602.5 667.5 600 C669 597.5 669 593.8 668.8 590 C668.5 586.2 667.1 581.7 666.2 577.5 C665.4 573.3 664.2 569.2 663.8 565 C663.3 560.8 664 556.7 663.8 552.5 C663.5 548.3 663.1 544 662.5 540 C661.9 536 661.5 531.5 660 528.8 C658.5 526 656.2 524.6 653.8 523.8 C651.2 522.9 648.1 523.5 645 523.8 C641.9 524 636.9 526.5 635 525 C633.1 523.5 633.8 518.8 633.8 515 C633.8 511.2 634.4 506.2 635 502.5 C635.6 498.8 637.1 496.2 637.5 492.5 C637.9 488.8 637.3 484.2 637.5 480 C637.7 475.8 638.1 471.2 638.8 467.5 C639.4 463.8 640.2 460.8 641.2 457.5 C642.3 454.2 643.3 450.2 645 447.5 C646.7 444.8 650.2 442.3 651.2 441.2Z" fill="#a6cf3a" stroke="#0a1a05" stroke-opacity="0.8" stroke-width="1.9" stroke-linejoin="round"/>
<path d="M593.8 677.5 C592.3 677.5 590 680.4 588.8 682.5 C587.5 684.6 586.5 687.1 586.2 690 C586 692.9 586.7 697.1 587.5 700 C588.3 702.9 589.6 705.5 591.2 707.5 C592.9 709.5 595.4 711.4 597.5 712 C599.6 712.6 602.2 712.2 603.8 711.2 C605.3 710.3 606.6 708.5 607 706.2 C607.4 704 607 700.2 606.2 697.5 C605.5 694.8 604 692.5 602.5 690 C601 687.5 599 684.6 597.5 682.5 C596 680.4 595.2 677.5 593.8 677.5Z" fill="#a6cf3a" stroke="#0a1a05" stroke-opacity="0.8" stroke-width="1.9" stroke-linejoin="round"/>
<path d="M645 697.5 C644.4 697.1 647.7 692.9 648.8 690 C649.8 687.1 650.2 683.3 651.2 680 C652.3 676.7 653.5 672.9 655 670 C656.5 667.1 658.1 664.6 660 662.5 C661.9 660.4 664.6 658.5 666.2 657.5 C667.9 656.5 668.8 655.4 670 656.2 C671.2 657.1 672.8 659.8 673.8 662.5 C674.7 665.2 675.3 668.8 675.5 672.5 C675.7 676.2 675.7 681.2 675 685 C674.3 688.8 672.7 692.7 671.2 695 C669.8 697.3 668.1 698.5 666.2 698.8 C664.4 699 662.3 697.3 660 696.2 C657.7 695.2 655 692.3 652.5 692.5 C650 692.7 645.6 697.9 645 697.5Z" fill="#7ec142" stroke="#0a1a05" stroke-opacity="0.8" stroke-width="1.9" stroke-linejoin="round"/>
<path d="M792.5 542.5 C792.9 543.8 793.3 547.1 795 550 C796.7 552.9 799.8 557.5 802.5 560 C805.2 562.5 809.5 563 811.2 565 C813 567 812.7 570.8 813 572 L803 585 L797 610 L795 640 L790 668 L775 676 L762.5 673.8 C762.6 671.9 762.8 666.5 763 662.5 C763.2 658.5 763.8 653.3 763.8 650 C763.7 646.7 763.1 645.4 762.5 642.5 C761.9 639.6 761 635.8 760 632.5 C759 629.2 756.2 624.8 756.2 622.5 C756.2 620.2 757.7 620.4 760 618.8 C762.3 617.1 766.7 614.8 770 612.5 C773.3 610.2 777.5 607.1 780 605 C782.5 602.9 784.6 602.5 785 600 C785.4 597.5 783.8 593.3 782.5 590 C781.2 586.7 779 583.3 777.5 580 C776 576.7 774.4 573.3 773.8 570 C773.1 566.7 773.1 562.9 773.8 560 C774.4 557.1 775.6 554.8 777.5 552.5 C779.4 550.2 782.5 547.9 785 546.2 C787.5 544.6 791.2 543.1 792.5 542.5Z" fill="#a6cf3a" stroke="#0a1a05" stroke-opacity="0.8" stroke-width="1.9" stroke-linejoin="round"/>
<circle cx="592.9" cy="599.4" r="2.7" fill="#a6cf3a" stroke="#0a1a05" stroke-opacity="0.8" stroke-width="1.5"/>
</g>
<path d="M327.6 592.4 L331.4 590.1 L333.6 587.1 L336.7 587.8 L339.7 590.9 L341.2 594.6 L340.4 597.6 L342.7 602.1 L345.7 606.7 L348.7 611.2 L351.7 615.7 L354.7 620.2 L358.5 624.7 L361.5 627.7 L363.7 625.5 L366.7 626.2 L369 630 L372 633.7 L372.5 638.3 L371.3 642 L368.3 645.8 L364.5 646.5 L360.7 647.3 L357.7 648 L355.5 644.3 L353.2 639.8 L350.2 635.2 L346.4 633 L342.7 630.7 L338.9 627 L335.9 623.2 L333.6 618.7 L330.6 615.7 L326.9 613.4 L323.9 610.4 L321.6 606.7 L319.3 602.9 L318.6 599.4 L320.1 598.4 L323.9 599.9 L326.9 599.4 L327.3 596.1Z" fill="#fff" stroke="#0a1a05" stroke-opacity="0.8" stroke-width="1.2" stroke-linejoin="round"/>
<path d="M688.2 727.3 L691.6 726.9 L695.1 728.6 L699.4 727.7 L703.7 726.5 L708 727.3 L711.4 728.6 L714 732 L715.7 735.5 L714.9 740.2 L713.1 738.1 L708.8 736.4 L704.5 735.9 L700.2 736.8 L696.8 735.5 L693.4 732.9 L690.8 730.3Z" fill="#fff" stroke="#0a1a05" stroke-opacity="0.8" stroke-width="1.2" stroke-linejoin="round"/>
<path d="M222.5 257.5 L224 252.5 L226 249 L230 249 L232.5 254 L236 259 L242.5 264 L250 267.5 L256 271 L260 269.5 L266 270 L272.5 269 L277.5 274 L284 277.5 L290 281 L294 285 L296 286 L300 281 L297.5 279 L305 280 L316 281 L321 280 L322 261 L325 266 L328 271 L325 276 L324 281 L330 286 L337.5 291 L347.5 294 L355 295 L362.5 292.5 L367.5 299 L375 305 L382.5 309 L392.5 311 L399 312.5 L401 317.5 L410 322.5 L420 329 L430 334 L437.5 340 L445 343.8 L455 347.5 L467.5 353.8 L480 357.5 L495 358.8 L507.5 361.2 L520 361.2 L530 357.5 L537.5 352.5 L540 357.5 L547.5 356.2 L555 350 L557.5 345 L565 343.8 L570 338.8 L577.5 342.5 L580 337.5 L582.5 347.5 L586.2 350 L583.8 340 L581.2 336.2 L590 332.5 L595 330 L605 328.8 L615 322.5 L622.5 321.2 L630 323.8 L642.5 325 L650 322.5 L657.5 316.2 L665 313.8 L673.8 312.5 L680 318.8 L685 323.8 L692.5 323.8 L700 318.8 L707.5 311.2 L715 300 L721.2 291.2 L730 286.2 L737.5 292.5 L747.5 296.2 L750 297.5 L760 296.2 L767.5 291.2 L773.8 283.8 L778.8 275 L777.5 267.5 L785 267.5 L792.5 271.2 L800 275 L807.5 282.5 L815 288.8 L822.5 295 L830 302.5 L835 310 L840 318.8 L845 323.8 L840 327.5 L836.2 335 L833.8 345 L832.5 355 L833 367.5 L836.2 377.5 L840 386.2 L842.5 391.2 L838.8 400 L836.2 410 L832.5 420 L830 430 L831.2 440 L835 450 L837.5 460 L836.2 470 L833 477.5 L831.2 490 L832.5 500 L830 510 L831.2 520 L835 527.5 L833.8 540 L832.5 552.5 L836.2 565 L838.8 575 L840 585 L837.5 592.5 L841.2 597.5 L838.8 605 L835 612.5 L831.2 615 L826.2 605 L830 600 L831.2 590 L827.5 582.5 L825 576.2 L815 572.5 L805 572.5 L797.5 576.2 L795 582.5 L793.8 590 L790 597.5 L785 602.5 L783.8 612.5 L785 622.5 L782.5 632.5 L780 642.5 L781.2 652.5 L783.8 662.5 L777.5 667.5 L772.5 672.5 L767.5 671.2 L762.5 673.8 L763.8 678.8 L767.5 683.8 L770 692.5 L771.2 702.5 L770 712.5 L766.7 720 L762.5 726.7 L759.2 735.8 L756.7 741.7 L753.3 748.3 L751.3 752.5 L756.7 750 L760.8 745.8 L764.2 741.7 L769.2 743.3 L773.3 747.5 L776.7 749.2 L780 755 L779.7 763.3 L777.5 770 L773.3 775 L770 779.2 L770.8 781.7 L773.3 788.3 L774.2 795 L776.7 801.7 L777.5 806.7 L780.8 809.2 L778.3 815 L775.8 819.2 L771.7 820.8 L767.5 819.2 L764.2 815 L762.5 810 L760 806.7 L756.7 808.3 L757.5 813.3 L759.2 818.3 L756.7 821.7 L751.7 823.3 L747.5 825.8 L746.7 830.8 L743.3 828.3 L739.2 824.2 L735 820 L731.7 815.8 L730 810 L732.5 803.3 L736.7 800.8 L733.3 798.3 L728.3 797.5 L724.2 794.2 L720.8 789.2 L719.2 783.3 L719.2 777.5 L722.5 775 L726.7 774.2 L728.3 768.3 L726.7 762.5 L730.8 763.3 L734.2 766.7 L735 773.3 L737.5 780 L741.7 784.2 L746.7 786.7 L751.7 790 L755.8 788.3 L756.7 785 L760 782.5 L758.3 778.3 L755 773.3 L753.3 768.3 L756.7 765 L755 761.7 L752 758.3 L750 754.5 L746.7 753.7 L740 752 L733.3 751.7 L726.7 750.8 L722.5 749.2 L719.2 745 L715.8 740.8 L714 740.2 L710.6 739.4 L707.1 740.2 L703.7 741.5 L701.1 744.1 L699.4 747.5 L698.5 751 L697.2 754.4 L700.2 757 L703.3 760.4 L705.4 764.8 L706.7 769.1 L704.1 775.9 L700.2 780.2 L695.1 782.5 L691.6 783.8 L686.5 785 L683.5 785.5 L682.2 780.2 L681.3 775.9 L682.2 771.6 L683 769.9 L684.8 773.4 L686 777.7 L687.3 781.1 L689.5 782 L691.6 781.5 L692.5 779.4 L692.9 775.1 L692.5 769.9 L691.6 764.8 L692.1 760.4 L692.9 757.5 L691.6 756 L688.2 756.5 L685.2 757.9 L684.3 755.3 L683 751.8 L680.4 749.7 L677 748.4 L674.4 745.8 L672.3 742.4 L669.7 740.7 L669.3 745 L670.1 749.3 L671.4 753.6 L671.8 757.9 L671.4 763 L670.6 768.2 L669.7 772.5 L670.1 776.8 L670.6 782 L670.1 786.3 L668.4 788 L665.8 783.7 L663.2 780.2 L661.1 779.4 L660.2 783.7 L658.5 788 L658.1 791.4 L660.7 794 L663.7 795.7 L665.3 798.5 L663.8 803.3 L658.7 807.4 L655.6 813.6 L656.6 821.7 L657.6 829.9 L655.6 836 L649.5 839.1 L643.3 838.1 L638.2 834 L634.1 829.9 L631.1 823.8 L630.1 817.6 L628 815.6 L626 821.7 L623.9 825.8 L619.8 820.7 L616.6 814.6 L615.5 806 L612.7 803.5 L610.6 807.4 L610.6 815.6 L614.7 823.8 L620.9 829.9 L627 836 L631.1 840.1 L629 844.2 L623.9 848.3 L617.8 849.3 L615.8 852.4 L620.9 851.4 L623.9 854.4 L621.9 862.6 L617.8 870.8 L612.7 874.9 L608.6 881 L610.6 887.1 L607.6 895.3 L600.4 898.4 L596.3 901.4 L599.4 907.5 L600.4 913.7 L594.3 917.8 L588.2 920.8 L586.1 917.8 L580 915.5 L567.5 918 L563.8 911.8 L560 910.5 L558.4 911.6 L554.4 905.6 L548.5 899.7 L539.6 894.8 L534.7 895.8 L528.8 898.7 L520.9 897.4 L513 896 L505 897 L498.2 898.7 L495.3 893.8 L492.3 888.9 L487.4 888.3 L484.4 891.8 L481.5 897.8 L477.5 893.8 L473.6 889.9 L467.7 894.8 L463.7 899.7 L457.8 900.7 L454.8 903.7 L455.8 893.8 L454.8 885.9 L451.9 880 L450 873 L445 863 L439 859.2 L443.2 855.6 L447.5 851.3 L445.4 848.1 L441.1 842.7 L443.2 836.2 L442.2 829.8 L439 827.6 L436.8 831.9 L435.7 841.6 L430.4 844.8 L425 845.9 L421.8 840.5 L418.5 834.1 L417.5 825.5 L414.2 819 L408.9 813.7 L404.6 808.3 L403.5 802.9 L399.2 800.8 L394.9 795.4 L397 789 L392.7 787.9 L387.4 782.5 L383.1 777.1 L378.8 771.8 L372.3 771.3 L365.4 772.8 L365.9 767.5 L364.8 761 L361.6 754.6 L356.2 748.1 L353 739.5 L349.8 730.9 L346.5 722.3 L345.5 711.6 L342.2 703 L336.9 696.5 L331.5 691.2 L327.2 689 L331.5 685.8 L330.4 679.3 L325 668.6 L321.8 660 L322 652.5 L320 640 L317.5 630 L315 620 L315.5 610 L313.8 602.5 L311.2 595 L314.8 596.9 L317.8 601.5 L318.8 598.5 L320.1 597.6 L323.9 590.1 L325.4 585.6 L324.7 577 L323.5 568 L321.3 560 L316 550 L310 537.5 L300 527.5 L290 515 L282.5 505 L276 496 L270 487.5 L265 480 L264 467.5 L257.5 455 L253.2 446 L249.6 439.9 L245.9 432.6 L242.3 426.6 L238.6 421.7 L235 420.1 L238.6 418.1 L241.1 414.4 L241.7 409.6 L239.9 404.7 L236.2 399.9 L232.6 395 L229 387.5 L225 380 L224.5 370 L223 360 L224 350 L221 340 L216 332.5 L212.5 327.5 L214.5 320 L212.5 312.5 L216 306 L222.5 300 L229 293 L226 287.5 L225 280 L226 272.5 L224.5 265Z" fill="none" stroke="#0a1a05" stroke-opacity="0.8" stroke-width="2.1" stroke-linejoin="round"/>
<path d="M691.6 755.8 L695.1 755.7 L697.2 754.4" fill="none" stroke="#0a1a05" stroke-opacity="0.8" stroke-width="1.2"/>
<path d="M762.5 780 L766.7 780.3 L770 779.2" fill="none" stroke="#0a1a05" stroke-opacity="0.8" stroke-width="1.2"/>
<path d="M750 754.5 L751.3 752.5" fill="none" stroke="#0a1a05" stroke-opacity="0.8" stroke-width="1.2"/>
<path d="M93 10.5 L100 14.5 L110 20.5 L117.5 27 L121.5 32 L120 41 L121 50 L123 59 L124 65 L122.5 72.5 L125 80 L126.5 87.5 L126 97.5 L123 105 L117.5 112.5 L110 120 L105 125 L101 128 L99 130.5 L95 131 L91 134 L90.5 138 L88 135 L86 131 L82 129 L81 122.5 L84 116 L82 110 L80.5 100 L79 92.5 L76 85 L77 75 L79.5 67.5 L79 59 L77 50 L76.5 40 L82.5 35 L87.5 27.5 L89.5 17.5Z" fill="#7ec142" stroke="#0a1a05" stroke-opacity="0.8" stroke-width="2.1" stroke-linejoin="round"/>
<path d="M239.5 194.5 L240.5 202.5 L239 212.5 L238 224 L237.5 231 L234.5 235.5 L231 232.5 L228 224 L227.5 215 L229.5 210 L234 207.5 L236 200Z" fill="#7ec142" stroke="#0a1a05" stroke-opacity="0.8" stroke-width="2.1" stroke-linejoin="round"/>
<path d="M249.5 199 L254 192.5 L260 189.5 L267 190 L270 195 L269 201 L265 206 L260 209.5 L255 207.5 L251 204Z" fill="#7ec142" stroke="#0a1a05" stroke-opacity="0.8" stroke-width="2.1" stroke-linejoin="round"/>
<path d="M255 255 L259 247.5 L265 244 L270 245 L275 250 L282.5 254 L287 257.5 L286 260.5 L280 259 L274 260 L267.5 263 L261 265 L257 267 L255 262.5Z" fill="#7ec142" stroke="#0a1a05" stroke-opacity="0.8" stroke-width="2.1" stroke-linejoin="round"/>
<path d="M781.8 38.8 L787.5 47.5 L795 57.5 L803.8 68.8 L812.5 80 L820 87.5 L825 88.8 L832.5 92.5 L837.5 97.5 L837 107.5 L838.8 120 L841.2 132.5 L843.8 142.5 L845 148.8 L840 151.2 L833.8 148.8 L826.2 148 L821.2 152.5 L816.2 157.5 L810 161.2 L803.8 160 L797.5 155 L793.8 150 L796.2 142.5 L792.5 136.2 L791.2 130 L787.5 123.8 L782.5 118.8 L778.8 112.5 L773.8 107.5 L766.2 104.5 L771.2 100 L772 92.5 L770 85 L766.2 78.8 L760 77.5 L756.2 81.2 L751.2 78.8 L747.5 73.8 L750 68.8 L754.5 66.2 L760 63.8 L763.8 60 L766.2 55 L764.5 46.2 L770 46.2 L775 43Z" fill="#7ec142" stroke="#0a1a05" stroke-opacity="0.8" stroke-width="2.1" stroke-linejoin="round"/>
<path d="M785 190 L788.8 183.8 L796.2 180 L805 177.5 L812.5 177 L820 180 L825 175 L830 176.2 L837.5 172.5 L845 168 L850 175 L856.2 182.5 L861.2 185 L863.8 192.5 L868 199.5 L862.5 202.5 L857.5 206.2 L852.5 208.8 L845 208.8 L843.8 200 L838.8 198.8 L832.5 202.5 L826.2 204.5 L822.5 200.5 L815 198.8 L806.2 199.5 L798.8 201.2 L792.5 197.5 L787.5 195Z" fill="#7ec142" stroke="#0a1a05" stroke-opacity="0.8" stroke-width="2.1" stroke-linejoin="round"/>
<path d="M805.8 218.8 L810 214.5 L817.5 212 L825 212.5 L828.8 213.8 L827.5 220 L825 226.2 L821.2 231.2 L817.5 234.5 L813.8 230 L808.8 226.2Z" fill="#7ec142" stroke="#0a1a05" stroke-opacity="0.8" stroke-width="2.1" stroke-linejoin="round"/>
<path d="M793.8 680 L800 683.8 L805 690 L807.5 698.8 L802.5 701.2 L796.2 700 L795 705 L796.2 712.5 L791.2 715 L785 716.2 L786.2 710 L790 703.8 L788.8 698.8 L786.2 696.2 L788.8 688.8 L791.2 683.8Z" fill="#7ec142" stroke="#0a1a05" stroke-opacity="0.8" stroke-width="2.1" stroke-linejoin="round"/>
<path d="M822.5 620 L827.5 617.5 L833.8 618 L837.5 622.5 L838 627.5 L832.5 627.5 L826.2 625Z" fill="#7ec142" stroke="#0a1a05" stroke-opacity="0.8" stroke-width="2.1" stroke-linejoin="round"/>
<path d="M662.8 810.5 L664.8 801.3 L667.9 796.2 L675 792.1 L678.1 799.3 L680.1 807.4 L682.2 815.6 L685.2 821.7 L686.3 827.9 L683.2 832 L678.1 835 L673 836 L669.9 841.1 L669.9 846.3 L670.9 853.4 L674 857.5 L677.7 858.5 L677.1 862.6 L673 865.7 L670.9 872.8 L668.9 881 L666.8 887.1 L663.8 892.2 L660.7 889.2 L656.6 883 L653.6 874.9 L649.5 872.4 L644.4 870.8 L645.4 864.6 L646.4 858.5 L650.5 858.9 L654 853.4 L657.6 846.3 L661.7 840.1 L664.2 833.6 L667.9 836 L669.4 840 L671.9 836 L673 832 L674 825.8 L675 819.7 L673 815.6 L666.8 813.6Z" fill="#7ec142"/>
<path d="M630.7 871.8 L633.5 869.7 L636.2 872.8 L639.3 878.9 L642.3 881 L645 875.9 L646.4 872.8 L648.5 874.9 L645.4 881 L642.3 885.1 L638.2 887.1 L636.2 883 L633.1 876.9Z" fill="#7ec142" stroke="#0a1a05" stroke-opacity="0.8" stroke-width="2.1" stroke-linejoin="round"/>
<path d="M100 102.5 L103 97 L110 94.5 L116 99 L119 102.5 L115 108 L109 111 L102.5 109Z" fill="#52b4a3" stroke="#0a1a05" stroke-opacity="0.8" stroke-width="1.2" stroke-linejoin="round"/>
<g clip-path="url(#cb)"><defs><clipPath id="cb"><path d="M662.8 810.5 L664.8 801.3 L667.9 796.2 L675 792.1 L678.1 799.3 L680.1 807.4 L682.2 815.6 L685.2 821.7 L686.3 827.9 L683.2 832 L678.1 835 L673 836 L669.9 841.1 L669.9 846.3 L670.9 853.4 L674 857.5 L677.7 858.5 L677.1 862.6 L673 865.7 L670.9 872.8 L668.9 881 L666.8 887.1 L663.8 892.2 L660.7 889.2 L656.6 883 L653.6 874.9 L649.5 872.4 L644.4 870.8 L645.4 864.6 L646.4 858.5 L650.5 858.9 L654 853.4 L657.6 846.3 L661.7 840.1 L664.2 833.6 L667.9 836 L669.4 840 L671.9 836 L673 832 L674 825.8 L675 819.7 L673 815.6 L666.8 813.6Z"/></clipPath></defs><path d="M653.6 866.7 L656.6 859.5 L661.7 855.4 L667.9 854 L670.9 857.5 L673 865.7 L672 875 L670 885 L666.8 895 L660.7 893 L655 885 L652 874.9Z" fill="#52b4a3" stroke="#0a1a05" stroke-opacity="0.8" stroke-width="1.9" stroke-linejoin="round"/></g>
<path d="M662.8 810.5 L664.8 801.3 L667.9 796.2 L675 792.1 L678.1 799.3 L680.1 807.4 L682.2 815.6 L685.2 821.7 L686.3 827.9 L683.2 832 L678.1 835 L673 836 L669.9 841.1 L669.9 846.3 L670.9 853.4 L674 857.5 L677.7 858.5 L677.1 862.6 L673 865.7 L670.9 872.8 L668.9 881 L666.8 887.1 L663.8 892.2 L660.7 889.2 L656.6 883 L653.6 874.9 L649.5 872.4 L644.4 870.8 L645.4 864.6 L646.4 858.5 L650.5 858.9 L654 853.4 L657.6 846.3 L661.7 840.1 L664.2 833.6 L667.9 836 L669.4 840 L671.9 836 L673 832 L674 825.8 L675 819.7 L673 815.6 L666.8 813.6Z" fill="none" stroke="#0a1a05" stroke-opacity="0.8" stroke-width="2.1" stroke-linejoin="round"/>
<circle cx="78" cy="91" r="1.9" fill="#000"/>
<circle cx="224.5" cy="254" r="1.9" fill="#000"/>
<circle cx="295" cy="291" r="1.9" fill="#000"/>
<circle cx="791.8" cy="129" r="1.9" fill="#000"/>
<circle cx="437.5" cy="341" r="1.9" fill="#000"/>
<circle cx="520" cy="361" r="1.9" fill="#000"/>
<circle cx="465.8" cy="425.5" r="1.9" fill="#000"/>
<circle cx="644.5" cy="425.5" r="1.9" fill="#000"/>
<circle cx="699.2" cy="362" r="1.9" fill="#000"/>
<circle cx="779.5" cy="469.5" r="1.9" fill="#000"/>
<circle cx="375.8" cy="565" r="1.9" fill="#000"/>
<circle cx="523.5" cy="617" r="1.9" fill="#000"/>
<circle cx="699.5" cy="556.2" r="1.9" fill="#000"/>
<circle cx="796.2" cy="578.2" r="1.9" fill="#000"/>
<circle cx="761.2" cy="674.2" r="1.9" fill="#000"/>
<circle cx="598.8" cy="709" r="1.9" fill="#000"/>
<circle cx="456.8" cy="723.2" r="1.9" fill="#000"/>
<circle cx="365.2" cy="773" r="1.9" fill="#000"/>
<circle cx="752" cy="814.7" r="1.9" fill="#000"/>
<circle cx="637.8" cy="886.7" r="1.9" fill="#000"/>
<circle cx="235.3" cy="420.1" r="1.9" fill="#000"/>
<circle cx="845" cy="323.8" r="1.9" fill="#000"/>
<circle cx="494.3" cy="925.4" r="1.9" fill="#000"/>
<circle cx="329.4" cy="585.9" r="1.9" fill="#000"/>
<text class="lb" x="21" y="97">Currie</text>
<text class="lb" x="130" y="260">Cape Grim</text>
<text class="lb" x="262.5" y="308">Smithton</text>
<text class="lb" x="700" y="145">Whitemark</text>
<text class="lb" x="449.5" y="337">Burnie</text>
<text class="lb" x="430.5" y="379">Devonport</text>
<text class="lb" x="593" y="353.8">Low Head</text>
<text class="lb" x="477.5" y="431">Erriba</text>
<text class="lb" x="657" y="431">Launceston</text>
<text class="lb" x="711" y="368.5">Scottsdale</text>
<text class="lb" x="857.5" y="319.4">larapuna</text>
<text class="lb" x="857.5" y="340.5">(Eddystone Pt)</text>
<text class="lb" x="791.5" y="474">Fingal</text>
<text class="lb" x="131" y="426.5">Sandy Cape</text>
<text class="lb" x="258" y="581">Strahan</text>
<text class="lb" x="388.8" y="571">Queenstown</text>
<text class="lb" x="536.2" y="622">Tarraleah</text>
<text class="lb" x="712" y="562.5">Ross</text>
<text class="lb" x="762" y="597">Swansea</text>
<text class="lb" x="700.5" y="680.5">Orford</text>
<text class="lb" x="610.5" y="715.5">Bushy Park</text>
<text class="lb" x="468.5" y="729.2">Strathgordon</text>
<text class="lb" x="645" y="767">Hobart</text>
<text class="lb" x="227" y="779.5">Low Rocky Point</text>
<text class="lb" x="765" y="831.7">Palmers Lookout</text>
<text class="lb" x="649.5" y="904">Cape Bruny</text>
<text class="lb" x="344" y="942.3">Maatsuyker Island</text>
<rect x="1026.1" y="-40" width="2" height="1010" fill="#4a4a4a"/>
<rect x="1114" y="220.7" width="53" height="60" fill="#6f4b9b" stroke="#0c0c18" stroke-width="1.8"/>
<rect x="1114" y="280.7" width="53" height="60" fill="#3a50a4" stroke="#0c0c18" stroke-width="1.8"/>
<rect x="1114" y="340.7" width="53" height="60" fill="#4682c4" stroke="#0c0c18" stroke-width="1.8"/>
<rect x="1114" y="400.7" width="53" height="60" fill="#52b4a3" stroke="#0c0c18" stroke-width="1.8"/>
<rect x="1114" y="460.7" width="53" height="60" fill="#7ec142" stroke="#0c0c18" stroke-width="1.8"/>
<rect x="1114" y="520.7" width="53" height="60" fill="#a6cf3a" stroke="#0c0c18" stroke-width="1.8"/>
<rect x="1114" y="580.7" width="53" height="60" fill="#cbdc47" stroke="#0c0c18" stroke-width="1.8"/>
<rect x="1114" y="640.7" width="53" height="60" fill="#f8ed3a" stroke="#0c0c18" stroke-width="1.8"/>
<rect x="1114" y="700.7" width="53" height="60" fill="#f4da91" stroke="#0c0c18" stroke-width="1.8"/>
<rect x="1114" y="760.7" width="53" height="60" fill="#f6e9c8" stroke="#0c0c18" stroke-width="1.8"/>
<rect x="1114" y="820.7" width="53" height="60" fill="#ffffff" stroke="#0c0c18" stroke-width="1.8"/>
<text class="lg" x="1120.5" y="194.5">Rainfall (mm)</text>
<text class="lg" text-anchor="middle" x="1219" y="287.8">3000 mm</text>
<text class="lg" text-anchor="middle" x="1219" y="347.8">2000 mm</text>
<text class="lg" text-anchor="middle" x="1219" y="407.8">1500 mm</text>
<text class="lg" text-anchor="middle" x="1219" y="467.8">1000 mm</text>
<text class="lg" text-anchor="middle" x="1219" y="527.8">600 mm</text>
<text class="lg" text-anchor="middle" x="1219" y="587.8">400 mm</text>
<text class="lg" text-anchor="middle" x="1219" y="647.8">300 mm</text>
<text class="lg" text-anchor="middle" x="1219" y="707.8">200 mm</text>
<text class="lg" text-anchor="middle" x="1219" y="767.8">100 mm</text>
<text class="lg" text-anchor="middle" x="1219" y="827.8">50 mm</text>
<text class="lg" text-anchor="middle" x="1219" y="887.8">0 mm</text>
</g></svg></body></html>
